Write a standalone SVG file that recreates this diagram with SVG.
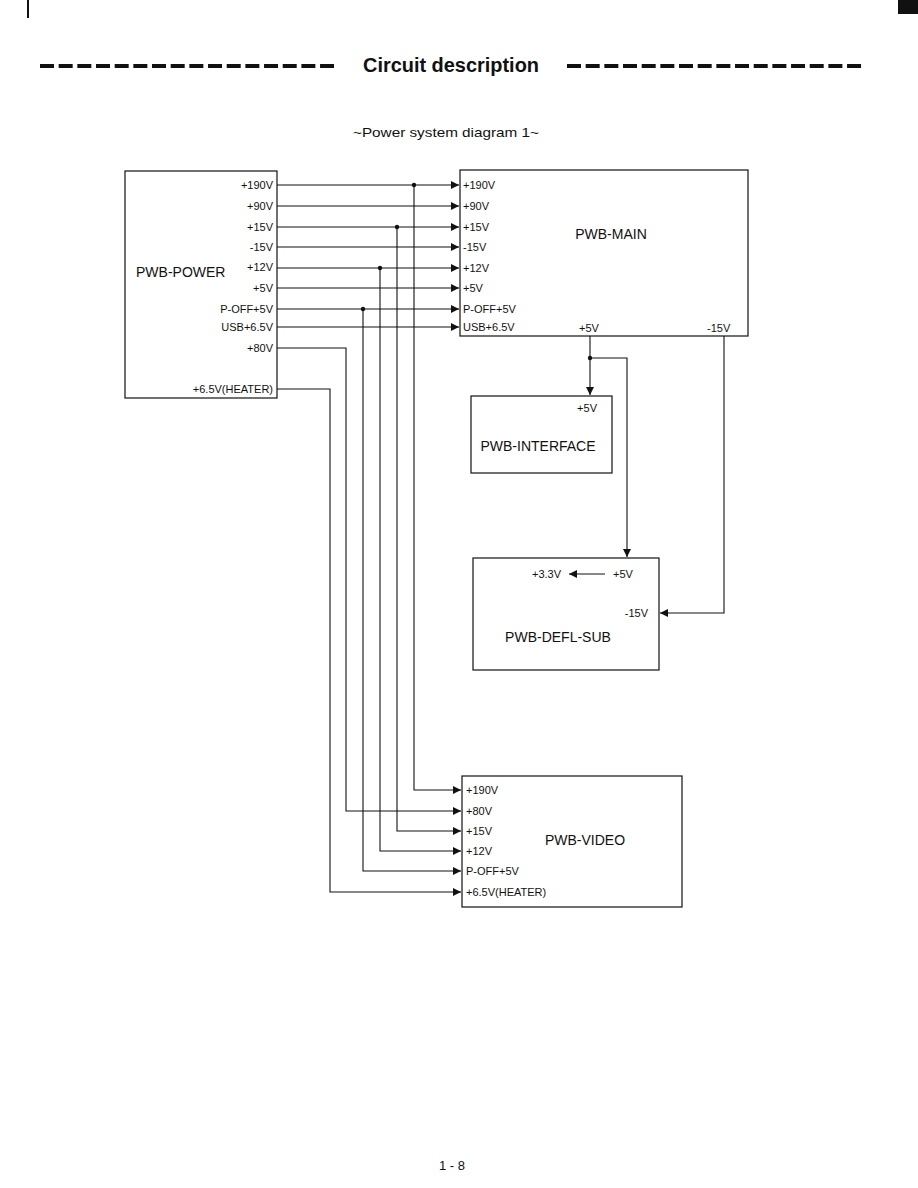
<svg xmlns="http://www.w3.org/2000/svg" width="918" height="1188" viewBox="0 0 918 1188">
<style>
text{font-family:"Liberation Sans",Arial,sans-serif;fill:#111}
.s{font-size:11px}
.n{font-size:14px}
.box{fill:none;stroke:#111;stroke-width:1.2}
.w{fill:none;stroke:#111;stroke-width:1.1}
.dash{stroke:#111;stroke-width:4;stroke-dasharray:14 4.67}
</style>
<defs>
<marker id="ar" markerUnits="userSpaceOnUse" markerWidth="9" markerHeight="9" viewBox="0 0 9 9" refX="8" refY="4.5" orient="auto">
<path d="M0,0.5 L8,4.5 L0,8.5 Z" fill="#111"/>
</marker>
</defs>
<rect width="918" height="1188" fill="#fff"/>
<rect x="27" y="0" width="2" height="18" fill="#111"/>
<rect x="898" y="0" width="20" height="14" fill="#111"/>
<g id="header">
<line class="dash" x1="40" y1="66" x2="334" y2="66"/>
<text x="363" y="72" font-size="20" font-weight="bold" textLength="176" lengthAdjust="spacingAndGlyphs">Circuit description</text>
<line class="dash" x1="567" y1="66" x2="862" y2="66"/>
<text x="446" y="137" font-size="13" text-anchor="middle" textLength="186" lengthAdjust="spacingAndGlyphs">~Power system diagram 1~</text>
</g>
<g id="pwb-power">
<rect class="box" x="125" y="171" width="152" height="227"/>
<text class="n" x="136" y="277">PWB-POWER</text>
<g class="s" text-anchor="end">
<text x="273" y="189">+190V</text>
<text x="273" y="210">+90V</text>
<text x="273" y="231">+15V</text>
<text x="273" y="251">-15V</text>
<text x="273" y="271">+12V</text>
<text x="273" y="292">+5V</text>
<text x="273" y="313">P-OFF+5V</text>
<text x="273" y="331">USB+6.5V</text>
<text x="273" y="352">+80V</text>
<text x="273" y="393">+6.5V(HEATER)</text>
</g>
</g>
<g id="pwb-main">
<rect class="box" x="460" y="170" width="288" height="166"/>
<text class="n" x="611" y="239" text-anchor="middle">PWB-MAIN</text>
<g class="s">
<text x="463" y="189">+190V</text>
<text x="463" y="210">+90V</text>
<text x="463" y="231">+15V</text>
<text x="463" y="251">-15V</text>
<text x="463" y="272">+12V</text>
<text x="463" y="292">+5V</text>
<text x="463" y="313">P-OFF+5V</text>
<text x="463" y="331">USB+6.5V</text>
<text x="579" y="332">+5V</text>
<text x="707" y="332">-15V</text>
</g>
</g>
<g id="pwb-interface">
<rect class="box" x="471" y="396" width="141" height="77"/>
<text class="s" x="597" y="412" text-anchor="end">+5V</text>
<text class="n" x="538" y="451" text-anchor="middle">PWB-INTERFACE</text>
</g>
<g id="pwb-defl-sub">
<rect class="box" x="473" y="558" width="186" height="112"/>
<text class="s" x="532" y="578">+3.3V</text>
<text class="s" x="613" y="578">+5V</text>
<text class="s" x="648" y="617" text-anchor="end">-15V</text>
<text class="n" x="558" y="642" text-anchor="middle">PWB-DEFL-SUB</text>
</g>
<g id="pwb-video">
<rect class="box" x="462" y="776" width="220" height="131"/>
<text class="n" x="585" y="845" text-anchor="middle">PWB-VIDEO</text>
<g class="s">
<text x="466" y="794">+190V</text>
<text x="466" y="815">+80V</text>
<text x="466" y="835">+15V</text>
<text x="466" y="855">+12V</text>
<text x="466" y="875">P-OFF+5V</text>
<text x="466" y="896">+6.5V(HEATER)</text>
</g>
</g>
<g id="connectors">
<line class="w" x1="277" y1="185" x2="459" y2="185" marker-end="url(#ar)"/>
<line class="w" x1="277" y1="206" x2="459" y2="206" marker-end="url(#ar)"/>
<line class="w" x1="277" y1="227" x2="459" y2="227" marker-end="url(#ar)"/>
<line class="w" x1="277" y1="247" x2="459" y2="247" marker-end="url(#ar)"/>
<line class="w" x1="277" y1="268" x2="459" y2="268" marker-end="url(#ar)"/>
<line class="w" x1="277" y1="288" x2="459" y2="288" marker-end="url(#ar)"/>
<line class="w" x1="277" y1="309" x2="459" y2="309" marker-end="url(#ar)"/>
<line class="w" x1="277" y1="327" x2="459" y2="327" marker-end="url(#ar)"/>
<polyline class="w" points="414,185 414,790 461,790" marker-end="url(#ar)"/>
<polyline class="w" points="277,348 346,348 346,811 461,811" marker-end="url(#ar)"/>
<polyline class="w" points="397,227 397,831 461,831" marker-end="url(#ar)"/>
<polyline class="w" points="380,268 380,851 461,851" marker-end="url(#ar)"/>
<polyline class="w" points="363,309 363,871 461,871" marker-end="url(#ar)"/>
<polyline class="w" points="277,389 330,389 330,892 461,892" marker-end="url(#ar)"/>
<circle cx="414" cy="185" r="2.2" fill="#111"/>
<circle cx="397" cy="227" r="2.2" fill="#111"/>
<circle cx="380" cy="268" r="2.2" fill="#111"/>
<circle cx="363" cy="309" r="2.2" fill="#111"/>
<line class="w" x1="590" y1="336" x2="590" y2="395" marker-end="url(#ar)"/>
<circle cx="590" cy="358" r="2.2" fill="#111"/>
<polyline class="w" points="590,358 627,358 627,557" marker-end="url(#ar)"/>
<polyline class="w" points="724,336 724,613 660,613" marker-end="url(#ar)"/>
<line class="w" x1="605" y1="574" x2="569" y2="574" marker-end="url(#ar)"/>
</g>
<text x="452" y="1170" font-size="13" text-anchor="middle">1 - 8</text>
</svg>
